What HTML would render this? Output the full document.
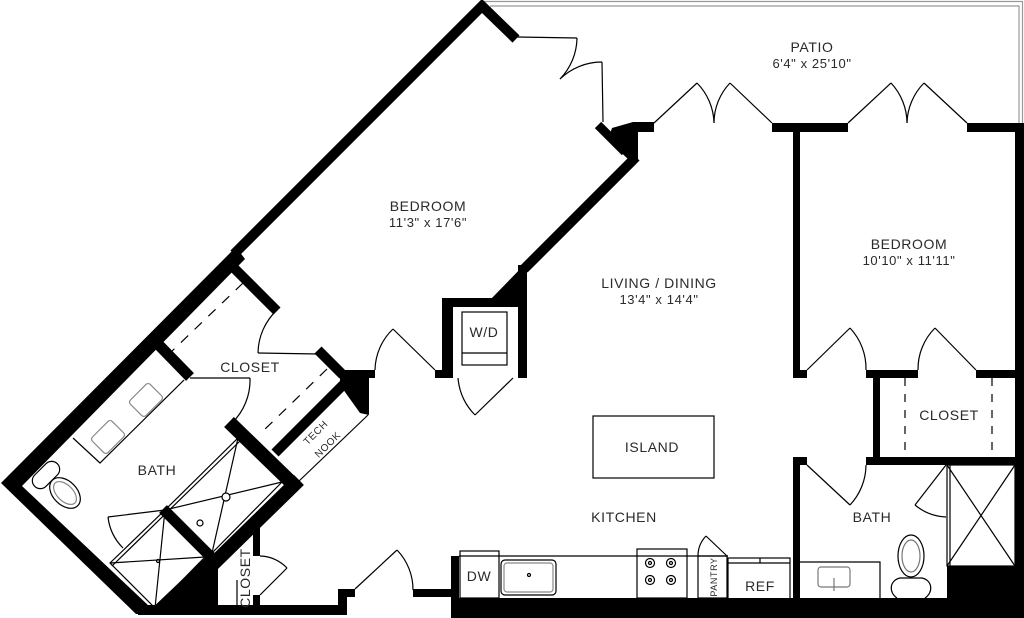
<!DOCTYPE html>
<html><head><meta charset="utf-8"><style>
html,body{margin:0;padding:0;background:#fff;}
svg{display:block}
text{font-family:"Liberation Sans",sans-serif;fill:#2a2a2a;letter-spacing:0.6px}
</style></head><body>
<svg width="1024" height="618" viewBox="0 0 1024 618" xmlns="http://www.w3.org/2000/svg">
<g fill="none" stroke="#999" stroke-width="1.2">
<polyline points="484,1.5 1022.5,1.5 1022.5,124"/>
<polyline points="490,6 1019,6 1019,124"/>
</g>
<g stroke="#000" stroke-linecap="butt" stroke-linejoin="miter" fill="none">
<polyline points="516,39 482,6 234,254" stroke-width="10"/>
<line x1="598" y1="125" x2="625" y2="152" stroke-width="9"/>
<line x1="636" y1="157" x2="524" y2="269" stroke-width="10"/>
<line x1="229" y1="263" x2="277" y2="311" stroke-width="10"/>
<line x1="153" y1="339" x2="190" y2="377" stroke-width="11"/>
<line x1="318" y1="350" x2="343" y2="375" stroke-width="10"/>
<line x1="346" y1="382" x2="275" y2="453" stroke-width="10"/>
<line x1="229" y1="422" x2="297" y2="488" stroke-width="14"/>
<line x1="299" y1="480" x2="210" y2="567" stroke-width="14"/>
<line x1="163" y1="509" x2="212" y2="558" stroke-width="11"/>
</g>
<g fill="#000">
<polygon points="236,247 245,259 22,486 150,607 142,614 136,614 1,483"/>
<polygon points="612,128 633,122 654,122 654,132 638,132 638,160 629,160 608,140"/>
<polygon points="527,262 527,300 490,300"/>
<rect x="442" y="298" width="85" height="9"/>
<rect x="442" y="298" width="11" height="80"/>
<rect x="518" y="265" width="9" height="113"/>
<rect x="435" y="370" width="18" height="8"/>
<rect x="362" y="370" width="13" height="8"/>
<polygon points="340,370 369,370 369,415 360,413 340,385"/>
<rect x="772" y="123" width="76" height="9"/>
<rect x="967" y="123" width="57" height="9"/>
<rect x="1015" y="123" width="9" height="495"/>
<rect x="793" y="128" width="7" height="250"/>
<rect x="793" y="370" width="14" height="8"/>
<rect x="866" y="370" width="52" height="8"/>
<rect x="976" y="370" width="48" height="8"/>
<rect x="873" y="370" width="7" height="95"/>
<rect x="866" y="457" width="158" height="8"/>
<rect x="793" y="457" width="7" height="161"/>
<rect x="793" y="457" width="14" height="8"/>
<rect x="947" y="566" width="77" height="52"/>
<rect x="451" y="598" width="573" height="20"/>
<rect x="451" y="556" width="8" height="62"/>
<rect x="413" y="589" width="46" height="8"/>
<rect x="338" y="589" width="17" height="8"/>
<rect x="338" y="589" width="9" height="25"/>
<rect x="138" y="605" width="209" height="10"/>
<polygon points="148,612 207,556 218,562 218,612"/>
<rect x="253" y="519" width="7" height="37"/>
<rect x="253" y="595" width="7" height="18"/>
</g>
<g fill="none" stroke="#000" stroke-width="1.2">
<line x1="517" y1="37" x2="577" y2="38"/>
<path d="M577,38 A60,60 0 0,1 560,79"/>
<line x1="602" y1="62" x2="603" y2="122"/>
<path d="M602,62 A60,60 0 0,0 560,79"/>
<line x1="654" y1="123" x2="697" y2="83"/><path d="M697,83 A59,59 0 0,1 714,123"/>
<line x1="772" y1="123" x2="730" y2="83"/><path d="M730,83 A58,58 0 0,0 714,123"/>
<line x1="848" y1="123" x2="891" y2="83"/><path d="M891,83 A59,59 0 0,1 907,123"/>
<line x1="967" y1="123" x2="924" y2="83"/><path d="M924,83 A59,59 0 0,0 907,123"/>
<line x1="807" y1="370" x2="850" y2="328"/><path d="M850,328 A59,59 0 0,1 866,370"/>
<line x1="976" y1="370" x2="935" y2="328"/><path d="M935,328 A58,58 0 0,0 918,370"/>
<line x1="905" y1="378" x2="905" y2="457" stroke-dasharray="8,8"/>
<line x1="992" y1="378" x2="992" y2="457" stroke-dasharray="8,8"/>
<line x1="807" y1="465" x2="850" y2="505"/><path d="M850,505 A59,59 0 0,0 866,465"/>
<rect x="947" y="465" width="68" height="101"/>
<line x1="950" y1="465" x2="950" y2="566"/>
<line x1="947" y1="465" x2="1015" y2="566"/><line x1="1015" y1="465" x2="947" y2="566"/>
<line x1="946" y1="465" x2="915" y2="505"/><path d="M915,505 A52,52 0 0,0 946,517"/>
<polyline points="800,562 880,562 880,598"/>
<rect x="818" y="567" width="32" height="20" rx="3" stroke="#777"/>
<line x1="834" y1="578" x2="834" y2="591" stroke="#777"/>
<ellipse cx="911" cy="556" rx="13" ry="21"/>
<ellipse cx="911" cy="556" rx="9" ry="16" stroke="#777"/>
<path d="M897,598 C888,592 890,580 900,578 L922,578 C932,580 934,592 925,598"/>
<line x1="459" y1="556" x2="728" y2="556"/>
<rect x="460" y="551" width="39" height="47"/>
<rect x="501" y="560" width="55" height="35" rx="4"/>
<rect x="504" y="563" width="49" height="29" rx="3" stroke="#888"/>
<circle cx="529" cy="575" r="1.5"/>
<rect x="637" y="549" width="50" height="49"/>
<circle cx="650" cy="563" r="4.5"/><circle cx="671" cy="563" r="4.5"/>
<circle cx="650" cy="580" r="4.5"/><circle cx="671" cy="580" r="4.5"/>
<circle cx="650" cy="563" r="1.5"/><circle cx="671" cy="563" r="1.5"/>
<circle cx="650" cy="580" r="1.5"/><circle cx="671" cy="580" r="1.5"/>
<rect x="698" y="556" width="29" height="42"/>
<line x1="727" y1="556" x2="706" y2="536"/><path d="M706,536 A29,29 0 0,0 698,557"/>
<rect x="728" y="558" width="62" height="50"/>
<line x1="728" y1="563" x2="790" y2="563"/>
<line x1="760" y1="558" x2="760" y2="563"/>
<rect x="593" y="416" width="121" height="62"/>
<line x1="355" y1="589" x2="397" y2="550"/><path d="M397,550 A57,57 0 0,1 413,590"/>
<rect x="462" y="312" width="45" height="53"/>
<line x1="462" y1="353" x2="507" y2="353"/>
<path d="M458,378 A60,60 0 0,0 475,415"/><line x1="475" y1="415" x2="513" y2="378"/>
<line x1="393" y1="329" x2="435" y2="370"/><path d="M393,329 A58,58 0 0,0 375,370"/>
<path d="M277,310 A60,60 0 0,0 258,353"/><line x1="258" y1="353" x2="318" y2="354"/>
<line x1="243" y1="283" x2="170" y2="353" stroke-dasharray="10,9"/>
<line x1="327" y1="369" x2="262" y2="432" stroke-dasharray="10,9"/>
<line x1="368" y1="415" x2="298" y2="482"/>
<line x1="190" y1="378" x2="250" y2="378"/><path d="M250,378 A60,60 0 0,1 232,423"/>
<polyline points="184,380 100,463 73,438"/>
<rect x="-14" y="-11" width="28" height="22" rx="3" stroke="#888" transform="translate(146,400) rotate(-45)"/>
<rect x="-14" y="-11" width="28" height="22" rx="3" stroke="#888" transform="translate(108,437) rotate(-45)"/>
<rect x="-16" y="-8" width="32" height="16" rx="8" transform="translate(46,475) rotate(-45)"/>
<ellipse cx="0" cy="0" rx="12" ry="18" transform="translate(65,493) rotate(-45)"/>
<ellipse cx="0" cy="0" rx="8" ry="14" stroke="#888" transform="translate(65,493) rotate(-45)"/>
<polygon points="238,438 282,482 212,553 165,510"/>
<line x1="238" y1="438" x2="212" y2="553"/><line x1="165" y1="510" x2="282" y2="482"/>
<circle cx="226" cy="497" r="4" fill="#fff"/>
<polygon points="165,510 205,557 155,608 110,563"/>
<line x1="165" y1="510" x2="155" y2="608"/><line x1="110" y1="563" x2="205" y2="557"/>
<circle cx="158" cy="561" r="1.5"/>
<line x1="240" y1="441" x2="112" y2="566"/>
<circle cx="200" cy="523" r="3"/>
<line x1="165" y1="510" x2="108" y2="517"/><path d="M108,517 A52,52 0 0,0 123,548"/>
<path d="M260,556 A38,38 0 0,1 287,568"/><line x1="287" y1="568" x2="260" y2="595"/>
<line x1="237" y1="580" x2="237" y2="612"/>
</g>
<g font-size="14" text-anchor="middle">
<text x="812" y="52">PATIO</text>
<text x="812" y="68" font-size="13">6'4" x 25'10"</text>
<text x="428" y="211">BEDROOM</text>
<text x="428" y="227" font-size="13">11'3" x 17'6"</text>
<text x="659" y="288">LIVING / DINING</text>
<text x="659" y="304" font-size="13">13'4" x 14'4"</text>
<text x="909" y="249">BEDROOM</text>
<text x="909" y="265" font-size="13">10'10" x 11'11"</text>
<text x="250" y="372">CLOSET</text>
<text x="157" y="475">BATH</text>
<text x="652" y="452">ISLAND</text>
<text x="624" y="522">KITCHEN</text>
<text x="872" y="522">BATH</text>
<text x="949" y="420">CLOSET</text>
<text x="484" y="337">W/D</text>
<text x="479" y="581">DW</text>
<text x="760" y="591">REF</text>
<text x="0" y="0" transform="translate(250,578) rotate(-90)">CLOSET</text>
<text x="0" y="0" font-size="9" transform="translate(717,577) rotate(-90)">PANTRY</text>
<text x="0" y="0" font-size="10" transform="translate(318,435) rotate(-45)">TECH</text>
<text x="0" y="0" font-size="10" transform="translate(330,447) rotate(-45)">NOOK</text>
</g>
</svg>
</body></html>
